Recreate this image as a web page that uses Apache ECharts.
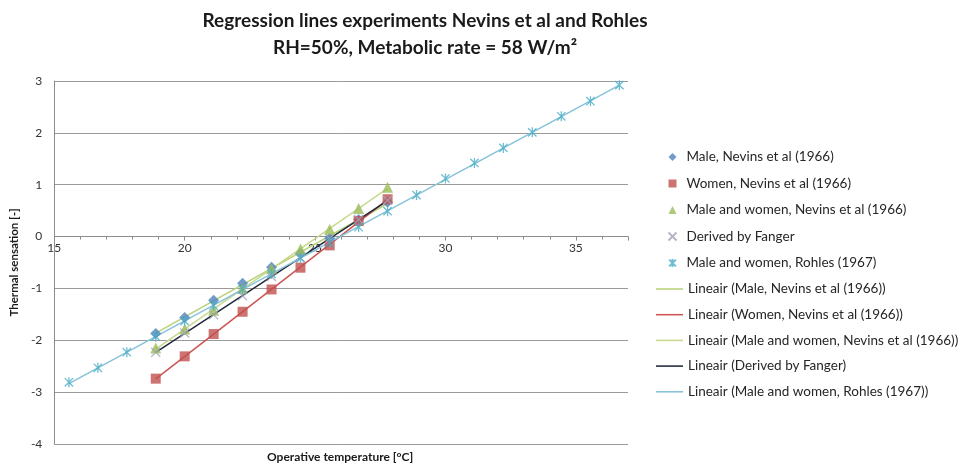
<!DOCTYPE html>
<html>
<head>
<meta charset="utf-8">
<script src="https://cdn.jsdelivr.net/npm/echarts@6/dist/echarts.min.js"></script>
<style>
html,body{margin:0;padding:0;background:#fff;}
#chart{width:963px;height:465px;}
</style>
</head>
<body>
<div id="chart"></div>
<script>
// ---- Data ----
var titleLines = ['Regression lines experiments Nevins et al and Rohles', 'RH=50%, Metabolic rate = 58 W/m\u00b2'];
var xAxisTitle = 'Operative temperature [\u00b0C]';
var yAxisTitle = 'Thermal sensation [-]';
var xTicks = [15, 20, 25, 30, 35];
var yTicks = [-4, -3, -2, -1, 0, 1, 2, 3];

var nevinsTemp = [18.89, 20.00, 21.11, 22.22, 23.33, 24.44, 25.56, 26.67, 27.78];
var maleNevins = [-1.87, -1.56, -1.23, -0.90, -0.59, -0.33, -0.03, 0.33, 0.66];
var womenNevins = [-2.74, -2.31, -1.88, -1.45, -1.02, -0.60, -0.17, 0.30, 0.72];
var bothNevins = [-2.15, -1.78, -1.42, -1.00, -0.62, -0.24, 0.14, 0.54, 0.95];
var fanger = [-2.23, -1.86, -1.51, -1.14, -0.77, -0.41, -0.04, 0.33, 0.70];

var rohlesTemp = [15.56, 16.67, 17.78, 18.89, 20.00, 21.11, 22.22, 23.33, 24.44, 25.56,
                  26.67, 27.78, 28.89, 30.00, 31.11, 32.22, 33.33, 34.44, 35.56, 36.67];
var rohles = [-2.81, -2.53, -2.23, -1.93, -1.63, -1.33, -1.02, -0.72, -0.42, -0.12,
              0.18, 0.49, 0.80, 1.12, 1.42, 1.71, 2.01, 2.32, 2.61, 2.92];

var seriesNames = [
  'Male, Nevins et al (1966)',
  'Women, Nevins et al (1966)',
  'Male and women, Nevins et al (1966)',
  'Derived by Fanger',
  'Male and women, Rohles (1967)'
];

// ---- helpers ----
function pairs(xs, ys) { return xs.map(function (x, i) { return [x, ys[i]]; }); }
// least-squares trend line over the data range (like Excel's linear trendline)
function trend(xs, ys) {
  var n = xs.length, sx = 0, sy = 0, sxx = 0, sxy = 0;
  for (var i = 0; i < n; i++) { sx += xs[i]; sy += ys[i]; sxx += xs[i] * xs[i]; sxy += xs[i] * ys[i]; }
  var b = (n * sxy - sx * sy) / (n * sxx - sx * sx);
  var a = (sy - b * sx) / n;
  var x0 = Math.min.apply(null, xs), x1 = Math.max.apply(null, xs);
  return [[x0, a + b * x0], [x1, a + b * x1]];
}

var FONT = 'Lato';
var crossPath = 'path://M0,0L10,10M10,0L0,10';
var starPath = 'path://M0,0L10,10M10,0L0,10M5,-1L5,11';
var lineIcon = 'path://M0,0L28,0L28,1.6L0,1.6Z';

function scatter(name, xs, ys, symbol, color, size, stroke) {
  return {
    name: name, type: 'scatter', data: pairs(xs, ys), symbol: symbol, symbolSize: size,
    symbolKeepAspect: true, z: 5,
    itemStyle: stroke ? { color: 'none', borderColor: color, borderWidth: 1.3 } : { color: color },
    emphasis: { disabled: true }
  };
}
function trendLine(name, xs, ys, color, width) {
  return {
    name: name, type: 'line', data: trend(xs, ys), symbol: 'none', z: 3,
    lineStyle: { color: color, width: width }, itemStyle: { color: color },
    emphasis: { disabled: true }
  };
}

var symbols = ['diamond', 'rect', 'triangle', crossPath, starPath];
var series = [
  scatter(seriesNames[0], nevinsTemp, maleNevins, symbols[0], '#4f81bd', 11),
  scatter(seriesNames[1], nevinsTemp, womenNevins, symbols[1], '#c0504d', 10),
  scatter(seriesNames[2], nevinsTemp, bothNevins, symbols[2], '#9bbb59', 11),
  scatter(seriesNames[3], nevinsTemp, fanger, symbols[3], '#a3a3b8', 9, true),
  scatter(seriesNames[4], rohlesTemp, rohles, symbols[4], '#4bacc6', 10, true),
  trendLine('Lineair (' + seriesNames[0] + ')', nevinsTemp, maleNevins, '#b9d37c', 1.5),
  trendLine('Lineair (' + seriesNames[1] + ')', nevinsTemp, womenNevins, '#cc5552', 1.5),
  trendLine('Lineair (' + seriesNames[2] + ')', nevinsTemp, bothNevins, '#c6d98f', 1.5),
  trendLine('Lineair (' + seriesNames[3] + ')', nevinsTemp, fanger, '#1f2838', 1.5),
  trendLine('Lineair (' + seriesNames[4] + ')', rohlesTemp, rohles, '#86c2da', 1.5)
];

var markerLegend = series.slice(0, 5).map(function (s, i) { return { name: s.name, icon: symbols[i] }; });
var lineLegend = series.slice(5).map(function (s) { return { name: s.name, icon: lineIcon }; });
var legendText = { fontFamily: FONT, fontSize: 13.5, color: '#262626' };

// grid geometry; the x axis is drawn where y = 0, as in the original
var gridTop = 81, gridBottom = 21, chartH = 465;
var yMin = yTicks[0], yMax = yTicks[yTicks.length - 1];
var plotH = chartH - gridTop - gridBottom;
var zeroOffset = -plotH * (0 - yMin) / (yMax - yMin);

var chart = echarts.init(document.getElementById('chart'), null, { renderer: 'canvas' });
chart.setOption({
  backgroundColor: '#ffffff',
  animation: false,
  title: {
    text: titleLines.join('\n'),
    left: 420, top: 2, textAlign: 'center',
    textStyle: { fontFamily: FONT, fontWeight: 'bold', fontSize: 19, lineHeight: 27, color: '#1a1a1a' }
  },
  legend: [{
    orient: 'vertical', left: 666, top: 150, padding: 0,
    itemWidth: 8, itemHeight: 8, itemGap: 12.5,
    textStyle: Object.assign({ padding: [0, 0, 0, 5] }, legendText),
    data: markerLegend, selectedMode: false
  }, {
    orient: 'vertical', left: 656, top: 282, padding: 0,
    itemWidth: 27, itemHeight: 8, itemGap: 11.7,
    textStyle: legendText,
    data: lineLegend, selectedMode: false
  }],
  graphic: [{
    type: 'text', left: 267, top: 451,
    style: { text: xAxisTitle, fontFamily: FONT, fontWeight: 'bold', fontSize: 12, fill: '#1a1a1a' }
  }],
  grid: { left: 50, right: 335, top: gridTop, bottom: gridBottom, containLabel: false },
  xAxis: {
    type: 'value', min: xTicks[0], max: 37, interval: 5,
    offset: zeroOffset,
    axisLine: { onZero: false, lineStyle: { color: '#8c8c8c', width: 1 } },
    axisTick: { show: true, length: 4, lineStyle: { color: '#8c8c8c' } },
    minorTick: { show: true, splitNumber: 5, length: 3, lineStyle: { color: '#8c8c8c' } },
    axisLabel: { fontFamily: FONT, fontSize: 12, color: '#333', margin: 6,
      formatter: function (v) { return xTicks.indexOf(v) >= 0 ? String(v) : ''; } },
    splitLine: { show: false }
  },
  yAxis: {
    type: 'value', min: yMin, max: yMax, interval: 1,
    name: yAxisTitle, nameLocation: 'middle', nameGap: 23,
    nameTextStyle: { fontFamily: FONT, fontWeight: 'bold', fontSize: 11.5, color: '#1a1a1a' },
    axisLine: { show: true, lineStyle: { color: '#8c8c8c', width: 1 } },
    axisTick: { show: false },
    axisLabel: { fontFamily: FONT, fontSize: 12, color: '#333', margin: 12 },
    splitLine: { show: true, lineStyle: { color: '#9a9a9a', width: 1 } }
  },
  series: series
});
</script>
</body>
</html>
